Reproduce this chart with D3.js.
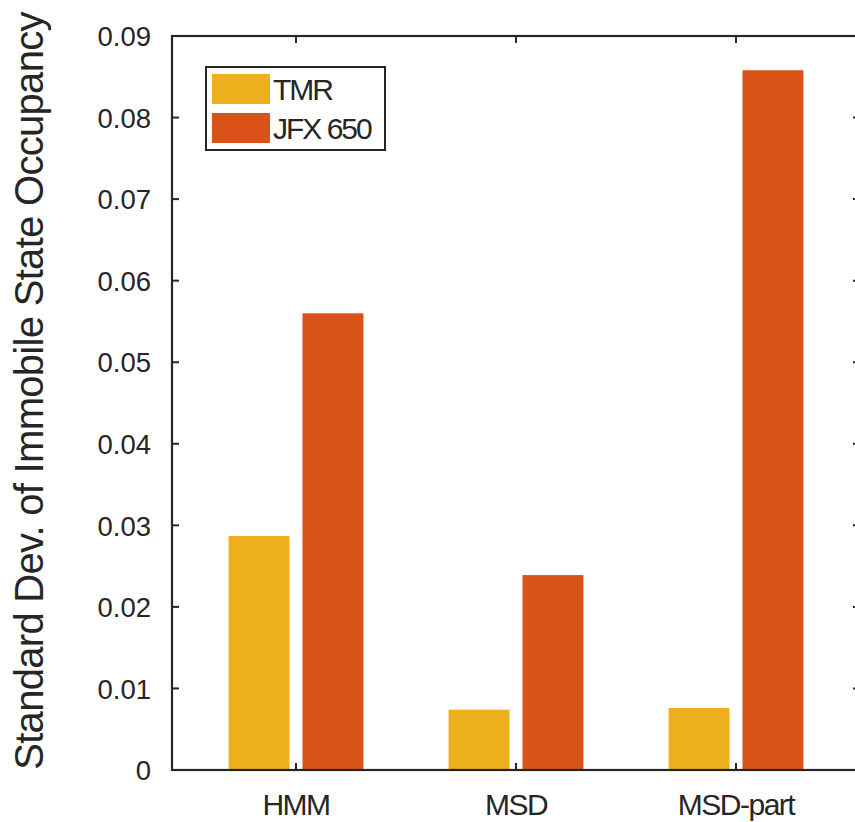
<!DOCTYPE html>
<html>
<head>
<meta charset="utf-8">
<script src="https://cdn.jsdelivr.net/npm/d3@7"></script>
<style>
  body { margin: 0; background: #fff; }
  text { font-family: "Liberation Sans", Arial, sans-serif; fill: #262626; }
</style>
</head>
<body>
<svg id="chart" width="855" height="822"></svg>
<script>
const categories = ["HMM", "MSD", "MSD-part"];
const seriesNames = ["TMR", "JFX650"];
const legendLabels = ["TMR", "JFX 650"];
const tmrValues = [0.0287, 0.0074, 0.0076];
const jfxValues = [0.0560, 0.0239, 0.0858];
const yTicks = [0, 0.01, 0.02, 0.03, 0.04, 0.05, 0.06, 0.07, 0.08, 0.09];
const colors = ["#EDB120", "#D95319"];

const svg = d3.select("#chart");
const L = 172, R = 860, T = 36, B = 770;
const x = d3.scaleLinear().domain([0.4364, 3.5636]).range([L, R]);
const y = d3.scaleLinear().domain([0, 0.09]).range([B, T]);
const barW = 0.277, off = 0.168;
const axisColor = "#262626";

const series = [tmrValues, jfxValues];
series.forEach((vals, s) => {
  svg.append("g").selectAll("rect").data(vals).join("rect")
    .attr("x", (d, i) => x(i + 1 + (s === 0 ? -off : off) - barW / 2))
    .attr("width", x(barW) - x(0))
    .attr("y", d => y(d))
    .attr("height", d => y(0) - y(d))
    .attr("fill", colors[s]);
});

// box
const tickLen = 7;
svg.append("rect").attr("x", L).attr("y", T).attr("width", R - L).attr("height", B - T)
  .attr("fill", "none").attr("stroke", axisColor).attr("stroke-width", 2.2);

// y ticks
const yg = svg.append("g");
yTicks.forEach(t => {
  yg.append("line").attr("x1", L).attr("x2", L + tickLen).attr("y1", y(t)).attr("y2", y(t))
    .attr("stroke", axisColor).attr("stroke-width", 2);
  yg.append("line").attr("x1", R).attr("x2", R - tickLen).attr("y1", y(t)).attr("y2", y(t))
    .attr("stroke", axisColor).attr("stroke-width", 2);
  yg.append("text").attr("x", L - 21).attr("y", y(t)).attr("dy", "0.37em")
    .attr("text-anchor", "end").attr("font-size", 27.5).text(t === 0 ? "0" : d3.format(".2f")(t));
});

// x ticks
categories.forEach((c, i) => {
  svg.append("line").attr("x1", x(i + 1)).attr("x2", x(i + 1)).attr("y1", B).attr("y2", B - tickLen)
    .attr("stroke", axisColor).attr("stroke-width", 2);
  svg.append("line").attr("x1", x(i + 1)).attr("x2", x(i + 1)).attr("y1", T).attr("y2", T + tickLen)
    .attr("stroke", axisColor).attr("stroke-width", 2);
  svg.append("text").attr("x", x(i + 1)).attr("y", 815).attr("text-anchor", "middle")
    .attr("font-size", 30).attr("letter-spacing", -1.5).text(c);
});

// y label
svg.append("text").attr("transform", "translate(43,391) rotate(-90)")
  .attr("text-anchor", "middle").attr("font-size", 40).attr("letter-spacing", -0.7)
  .text("Standard Dev. of Immobile State Occupancy");

// legend
const lg = svg.append("g");
lg.append("rect").attr("x", 206).attr("y", 67).attr("width", 179).attr("height", 83)
  .attr("fill", "#fff").attr("stroke", axisColor).attr("stroke-width", 2);
legendLabels.forEach((lab, i) => {
  lg.append("rect").attr("x", 212).attr("y", 74 + i * 39).attr("width", 58).attr("height", 30)
    .attr("fill", colors[i]);
  lg.append("text").attr("x", 273).attr("y", 89 + i * 39).attr("dy", "0.36em")
    .attr("font-size", 30).attr("letter-spacing", -2).text(lab);
});
</script>
</body>
</html>
